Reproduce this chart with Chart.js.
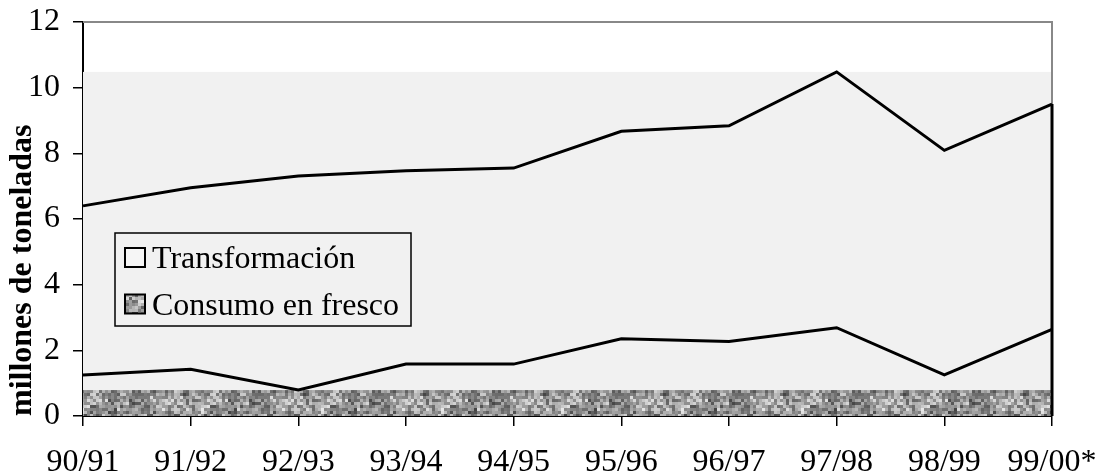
<!DOCTYPE html>
<html>
<head>
<meta charset="utf-8">
<script src="https://cdn.jsdelivr.net/npm/chart.js@4/dist/chart.umd.min.js"></script>
<style>
  html, body { margin: 0; padding: 0; background: #fff; }
  #wrap { width: 1099px; height: 475px; }
</style>
</head>
<body>
<div id="wrap"><canvas id="grafico" width="1099" height="475"></canvas></div>
<script>
// Datos (millones de toneladas)
const campanas = ["90/91", "91/92", "92/93", "93/94", "94/95", "95/96", "96/97", "97/98", "98/99", "99/00*"];
const consumoFresco = [1.25, 1.42, 0.79, 1.58, 1.58, 2.35, 2.27, 2.69, 1.25, 2.64];
const transformacion = [5.15, 5.53, 6.52, 5.89, 5.97, 6.32, 6.57, 7.79, 6.84, 6.86];
const ticksY = [0, 2, 4, 6, 8, 10, 12];

const fuente = "'Liberation Serif', 'Times New Roman', serif";

// Textura granulada para "Consumo en fresco"
const hash = (x, y) => {
  let h = Math.imul(x, 374761393) + Math.imul(y, 668265263);
  h = Math.imul(h ^ (h >>> 13), 1274126177);
  h = h ^ (h >>> 16);
  return (h >>> 0) / 4294967296;
};
const crearTextura = () => {
  const c = document.createElement("canvas");
  c.width = 120;
  c.height = 120;
  const g = c.getContext("2d");
  for (let i = 0; i < 40; i++) {
    for (let j = 0; j < 40; j++) {
      const grueso = hash(Math.floor(i / 3), Math.floor(j / 3) + 500);
      const fino = hash(i, j);
      const v = Math.round(50 + 185 * (0.4 * grueso + 0.6 * fino));
      g.fillStyle = "rgb(" + v + "," + v + "," + v + ")";
      g.fillRect(i * 3, j * 3, 3, 3);
    }
  }
  return c;
};
const textura = document.getElementById("grafico").getContext("2d").createPattern(crearTextura(), "repeat");

// Relleno de las áreas y bordes del área de trazado
const areasPlugin = {
  id: "areas",
  beforeDatasetsDraw(chart) {
    const { ctx, chartArea: a, scales } = chart;
    const y = scales.y;
    const x = scales.x;
    const totales = consumoFresco.map((v, i) => v + transformacion[i]);
    const yMax = y.getPixelForValue(Math.max(...totales));
    const yMin = y.getPixelForValue(Math.min(...consumoFresco));
    const y0 = y.getPixelForValue(0);
    ctx.save();
    ctx.fillStyle = "#f1f1f1";
    ctx.fillRect(a.left, yMax, a.right - a.left, y0 - yMax);
    ctx.fillStyle = textura;
    ctx.fillRect(a.left, yMin, a.right - a.left, y0 - yMin);
    // borde superior y derecho
    ctx.strokeStyle = "#888";
    ctx.lineWidth = 2;
    ctx.beginPath();
    ctx.moveTo(a.left, a.top);
    ctx.lineTo(a.right, a.top);
    ctx.lineTo(a.right, a.bottom);
    ctx.stroke();
    // borde derecho del área apilada
    const ultimo = totales.length - 1;
    ctx.strokeStyle = "#000";
    ctx.lineWidth = 3;
    ctx.beginPath();
    ctx.moveTo(x.getPixelForValue(ultimo), y.getPixelForValue(totales[ultimo]));
    ctx.lineTo(x.getPixelForValue(ultimo), y0);
    ctx.stroke();
    ctx.restore();
  },
};

// Leyenda dentro del área de trazado
const leyendaPlugin = {
  id: "leyenda",
  afterDraw(chart) {
    const { ctx, chartArea: a } = chart;
    const bx = a.left + 32;
    const by = a.top + 211;
    const bw = 296;
    const bh = 93;
    ctx.save();
    ctx.fillStyle = "#f1f1f1";
    ctx.fillRect(bx, by, bw, bh);
    ctx.strokeStyle = "#000";
    ctx.lineWidth = 1.5;
    ctx.strokeRect(bx, by, bw, bh);
    const items = chart.data.datasets.slice().reverse();
    ctx.font = "32px " + fuente;
    ctx.textBaseline = "alphabetic";
    items.forEach((ds, i) => {
      const yBase = by + 35 + i * 46.5;
      ctx.fillStyle = i === 0 ? "#f6f6f6" : textura;
      ctx.fillRect(bx + 10, yBase - 20, 20, 19);
      ctx.strokeStyle = "#000";
      ctx.lineWidth = 2;
      ctx.strokeRect(bx + 10, yBase - 20, 20, 19);
      ctx.fillStyle = "#000";
      ctx.fillText(ds.label, bx + 37, yBase);
    });
    ctx.restore();
  },
};

// Sin relleno extra por las etiquetas: el área la fija layout.padding
const sinRelleno = (s) => {
  s.paddingTop = 0;
  s.paddingRight = 0;
  s.paddingLeft = 0;
  s.paddingBottom = 0;
};

const ctx = document.getElementById("grafico").getContext("2d");
const grafico = new Chart(ctx, {
  type: "line",
  data: {
    labels: campanas,
    datasets: [
      {
        label: "Consumo en fresco",
        data: consumoFresco,
        borderColor: "#000",
        borderWidth: 3,
        pointRadius: 0,
        fill: false,
        tension: 0,
      },
      {
        label: "Transformación",
        data: transformacion,
        borderColor: "#000",
        borderWidth: 3,
        pointRadius: 0,
        fill: false,
        tension: 0,
      },
    ],
  },
  options: {
    responsive: false,
    animation: false,
    layout: { padding: { top: 22, right: 47, left: 0, bottom: 0 } },
    plugins: {
      legend: { display: false },
      tooltip: { enabled: false },
    },
    scales: {
      x: {
        offset: false,
        grid: { drawOnChartArea: false, color: "#000", tickLength: 10, lineWidth: 1.5 },
        border: { color: "#000", width: 2 },
        ticks: {
          color: "#000",
          font: { family: fuente, size: 32 },
          padding: 17,
          maxRotation: 0,
          autoSkip: false,
        },
        afterFit: (s) => { s.height = 59; sinRelleno(s); },
      },
      y: {
        stacked: true,
        min: 0,
        max: 12,
        afterBuildTicks: (s) => { s.ticks = ticksY.map((v) => ({ value: v })); },
        grid: { drawOnChartArea: false, color: "#000", tickLength: 10, lineWidth: 1.5 },
        border: { color: "#000", width: 2 },
        ticks: {
          color: "#000",
          font: { family: fuente, size: 32 },
          padding: 13,
        },
        title: {
          display: true,
          text: "millones de toneladas",
          color: "#000",
          align: "start",
          font: { family: fuente, size: 32, weight: "bold" },
          padding: { top: 4, bottom: 0 },
        },
        afterFit: (s) => { s.width = 83; sinRelleno(s); },
      },
    },
  },
  plugins: [areasPlugin, leyendaPlugin],
});
</script>
</body>
</html>
